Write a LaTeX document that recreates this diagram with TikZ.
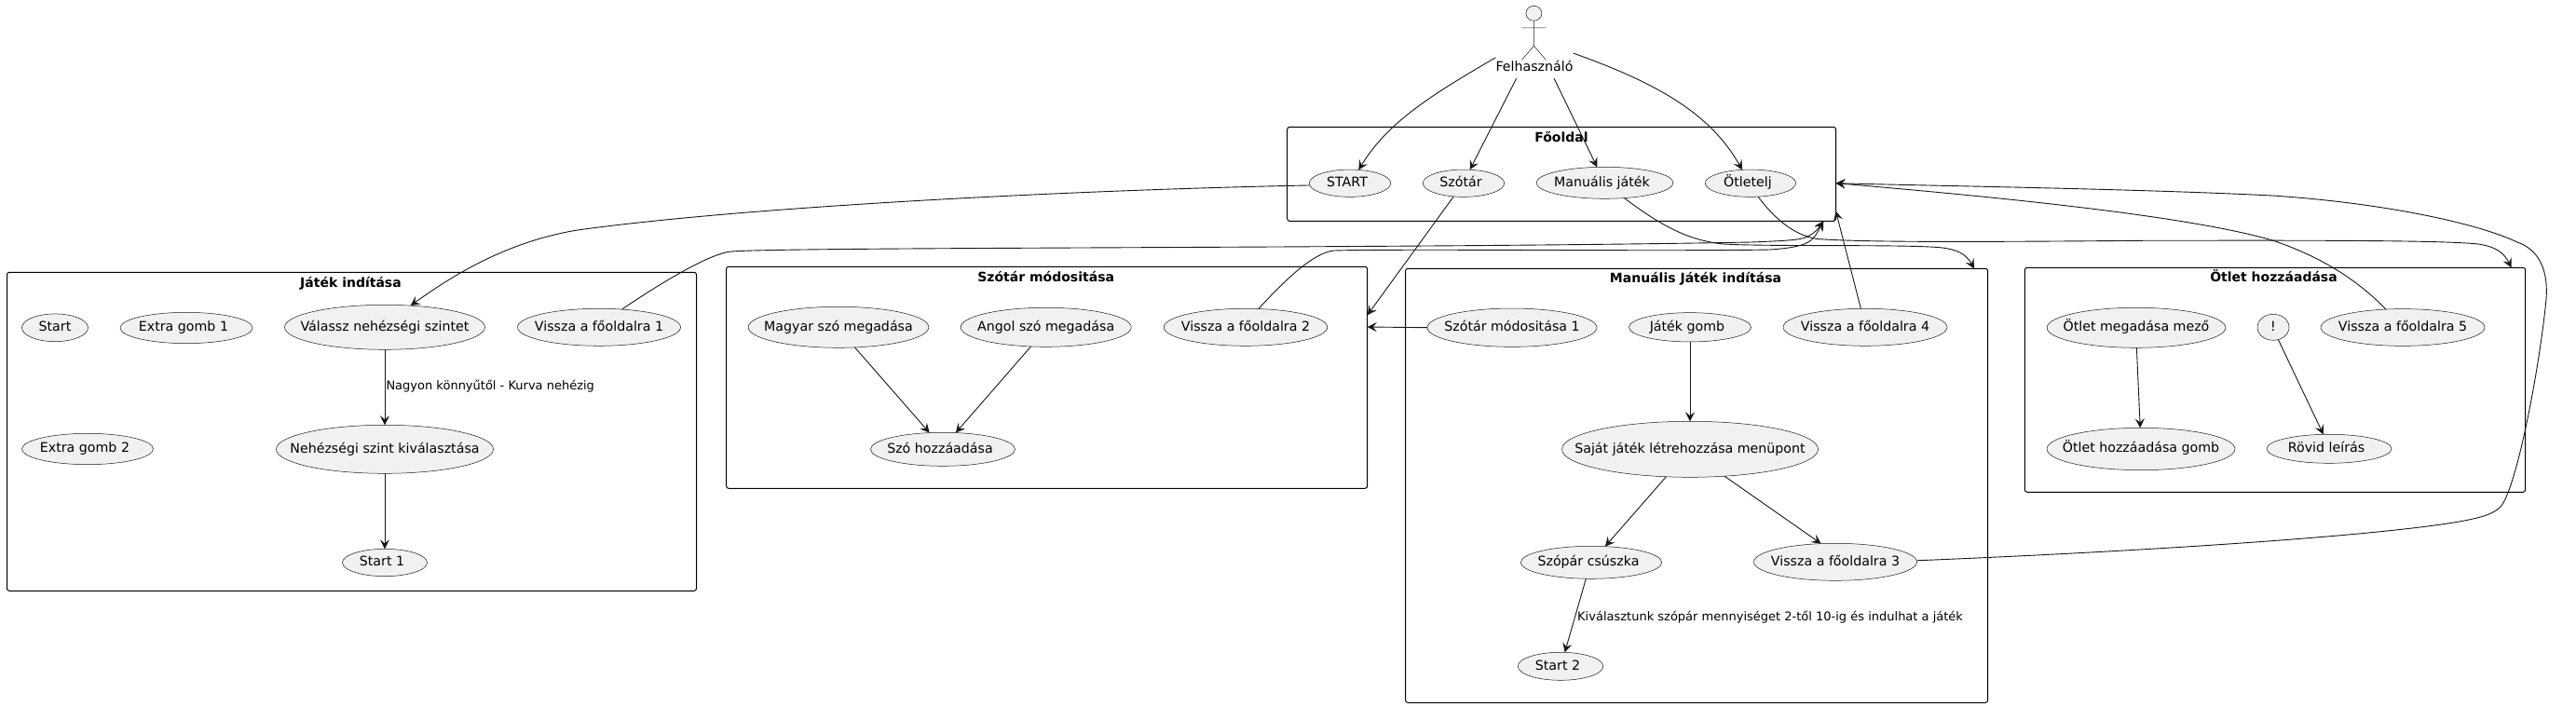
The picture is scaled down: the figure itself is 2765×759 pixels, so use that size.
\documentclass[tikz,border=0pt]{standalone}
\usepackage{fontspec}
\setmainfont{DejaVu Sans}
\usetikzlibrary{shapes.geometric,arrows.meta}
\definecolor{ink}{HTML}{181818}
\definecolor{ucfill}{HTML}{F1F1F1}
\newcommand{\lft}{\hspace*{-6pt}}
\tikzset{
  ucase/.style={ellipse,draw=ink,fill=ucfill,line width=0.5pt,inner sep=0pt,outer sep=0pt},
  utext/.style={inner sep=0pt,font=\fontsize{14.2}{16}\selectfont,text=black,text height=10.5pt,text depth=3pt},
  pack/.style={rectangle,draw=black,line width=1pt,rounded corners=2.5pt,inner sep=0pt,outer sep=0pt},
  ptitle/.style={inner sep=0pt,font=\fontsize{14}{16}\selectfont\bfseries,text=black,text height=13.5pt,text depth=3pt},
  elabel/.style={inner sep=0pt,anchor=west,font=\fontsize{13}{15}\selectfont,text=black,text height=10pt,text depth=3pt},
  conn/.style={draw=ink,line width=0.9pt,-{Stealth[length=10pt,width=10pt,inset=4pt]}},
  stick/.style={draw=ink,line width=0.5pt}
}
\newcommand{\uc}[6]{\node[ucase,minimum width=#4pt,minimum height=#5pt] (#1) at (#2,#3) {};\node[utext] (#1t) at (#1.center) {#6};}
\begin{document}
\begin{tikzpicture}[x=1pt,y=-1pt]
\path[use as bounding box,fill=white] (0,0) rectangle (2765,759);
% packages
\node[pack,minimum width=588.8pt,minimum height=101pt] (fo) at (1676.1,186.8) {};
\node[ptitle] (fot) at (1676,147) {Főoldal};
\node[pack,minimum width=740pt,minimum height=342pt] (jat) at (377.5,463.3) {};
\node[ptitle] (jatt) at (376.5,303.3) {Játék indítása};
\node[pack,minimum width=688.1pt,minimum height=238pt] (szm) at (1123.65,405.3) {};
\node[ptitle] (szmt) at (1122.7,297.3) {Szótár módositása};
\node[pack,minimum width=625pt,minimum height=466pt] (man) at (1821.1,521.3) {};
\node[ptitle] (mant) at (1820,298.3) {Manuális Játék indítása};
\node[pack,minimum width=537.3pt,minimum height=241pt] (otb) at (2442,407.8) {};
\node[ptitle] (otbt) at (2440.5,297.3) {Ötlet hozzáadása};
% actor
\node[ellipse,draw=ink,fill=ucfill,line width=0.5pt,inner sep=0pt,outer sep=0pt,minimum width=17pt,minimum height=16pt] (head) at (1646.4,14.3) {};
\coordinate (hip) at (1646.4,49.3);
\coordinate (arml) at (1633.5,30);
\coordinate (armr) at (1659.4,30);
\coordinate (legl) at (1633.5,64.3);
\coordinate (legr) at (1659.4,64.3);
\draw[stick] (head.south) -- (hip) (arml) -- (armr) (hip) -- (legl) (hip) -- (legr);
\node[utext,minimum width=82pt,minimum height=22pt] (user) at (1647,73) {Felhasználó};
% use cases
\uc{start}{1449}{196.7}{87.5}{29.3}{\lft START}
\uc{szotar}{1571}{196.7}{87.5}{29.3}{\lft Szótár}
\uc{manj}{1722.5}{196.3}{147}{34}{\lft Manuális játék}
\uc{otl}{1879}{196.7}{97.4}{29.3}{\lft Ötletelj}
\uc{st0}{59}{351.8}{71}{29.7}{Start}
\uc{ex1}{200}{352}{142}{33.3}{\lft Extra gomb 1}
\uc{val}{413}{351.3}{215}{48}{Válassz nehézségi szintet}
\uc{vi1}{643}{351.3}{175}{40}{Vissza a főoldalra 1}
\uc{ex2}{94}{482}{141}{33.3}{\lft Extra gomb 2}
\uc{neh}{413}{482.3}{233}{52}{Nehézségi szint kiválasztása}
\uc{st1}{413}{604}{91}{29.3}{\lft Start 1}
\uc{mag}{900}{351.3}{193.7}{44}{Magyar szó megadása}
\uc{ang}{1122.7}{351.3}{183}{42}{Angol szó megadása}
\uc{vi2}{1337}{351.3}{175.5}{40}{Vissza a főoldalra 2}
\uc{szo}{1012}{482.3}{155}{36}{\lft Szó hozzáadása}
\uc{szm1}{1623}{351.7}{182}{41.3}{Szótár módositása 1}
\uc{jg}{1814}{351.3}{131}{31.3}{\lft Játék gomb}
\uc{vi4}{2002}{351.3}{176}{40}{Vissza a főoldalra 4}
\uc{saj}{1814}{482.3}{275}{60}{Saját játék létrehozzása menüpont}
\uc{szp}{1708}{603.8}{151.4}{35}{\lft Szópár csúszka}
\uc{vi3}{1970}{603.3}{175}{40}{Vissza a főoldalra 3}
\uc{st2}{1675}{715.3}{91.5}{30}{\lft Start 2}
\uc{omm}{2293}{351.8}{191.7}{43}{Ötlet megadása mező}
\uc{ohg}{2298}{482}{202}{45.3}{Ötlet hozzáadása gomb}
\uc{ex}{2440}{351.3}{34}{28}{!}
\uc{rov}{2500}{481.8}{134}{31}{\lft Rövid leírás}
\uc{vi5}{2579}{351.5}{176}{39.7}{Vissza a főoldalra 5}
% edge labels
\node[elabel] (l1) at (414.3,414.7) {Nagyon könnyűtől - Kurva nehézig};
\node[elabel] (l2) at (1693,662.7) {Kiválasztunk szópár mennyiséget 2-től 10-ig és indulhat a játék};
% connectors: user
\draw[conn] (user.north west) .. controls (1540,100) and (1490,130) .. (start.57.1);
\draw[conn] (user.210.3) -- (szotar.65.5);
\draw[conn] (user.-28.9) -- (manj.116.6);
\draw[conn] ([yshift=4.7pt]user.north east) .. controls (1775,88) and (1835,120) .. (otl.122.6);
% main page to sub-pages
\draw[conn] (start.183) .. controls (1150,204) and (800,222) .. (620,247) .. controls (540,260) and (480,300) .. (val.40.4);
\draw[conn] (szotar.233) -- ([yshift=67pt]szm.east);
\draw[conn] (manj.-38.5) .. controls (1780,240) and (1810,258) .. (1850,262) .. controls (1900,265) and (2050,262) .. (2085,266) .. controls (2100,268) and (2110,272) .. ([xshift=-14.7pt]man.north east);
\draw[conn] (otl.-61.3) .. controls (1905,235) and (1925,252) .. (1950,256.5) .. controls (2000,260) and (2100,260) .. (2300,258.3) .. controls (2500,258) and (2620,258) .. (2660,262) .. controls (2680,265) and (2688,272) .. ([xshift=-15.1pt]otb.north east);
% inside
\draw[conn] (val.south) -- (neh.north);
\draw[conn] (neh.south) -- (st1.north);
\draw[conn] (mag.-51) -- (szo.129.4);
\draw[conn] (ang.232.2) -- (szo.52.1);
\draw[conn] (szm1.180) -- ([yshift=54.3pt]szm.east);
\draw[conn] (jg.south) -- (saj.north);
\draw[conn] (saj.229.5) -- (szp.49.4);
\draw[conn] (saj.-38.2) -- (vi3.128.1);
\draw[conn] (szp.252.6) -- (st2.73.3);
\draw[conn] (omm.-89) -- (ohg.92);
\draw[conn] (ex.-68) -- (rov.112.4);
% back to main page
\draw[conn] (vi1.38.2) .. controls (700,310) and (760,272) .. (785,270) .. controls (850,265) and (1500,267) .. (1880,260) .. controls (1915,258.5) and (1935,258) .. (1942,253) .. controls (1948,250) and (1952,245) .. ([xshift=-13.2pt]fo.south east);
\draw[conn] (vi2.55) .. controls (1380,300) and (1410,271) .. (1432,269) .. controls (1500,267) and (1800,270) .. (1900,268) .. controls (1930,266) and (1940,262) .. (1946,256) .. controls (1950,252) and (1953,245) .. ([xshift=-13.2pt]fo.south east);
\draw[conn] (vi4.103) -- ([yshift=-39.9pt]fo.east);
\draw[conn] (vi3.1.3) .. controls (2300,592) and (2560,575) .. (2645,559) .. controls (2665,555) and (2675,552) .. (2683,545) .. controls (2700,530) and (2725,400) .. (2732.8,323.3) .. controls (2736,290) and (2725,268) .. (2702,260) .. controls (2660,240) and (2560,218) .. (2439,210) .. controls (2300,203) and (2100,200) .. ([yshift=-9.9pt]fo.east);
\draw[conn] (vi5.133.8) .. controls (2530,300) and (2490,275) .. (2439,258) .. controls (2350,232) and (2150,212) .. ([yshift=-9.9pt]fo.east);
\end{tikzpicture}
\end{document}
